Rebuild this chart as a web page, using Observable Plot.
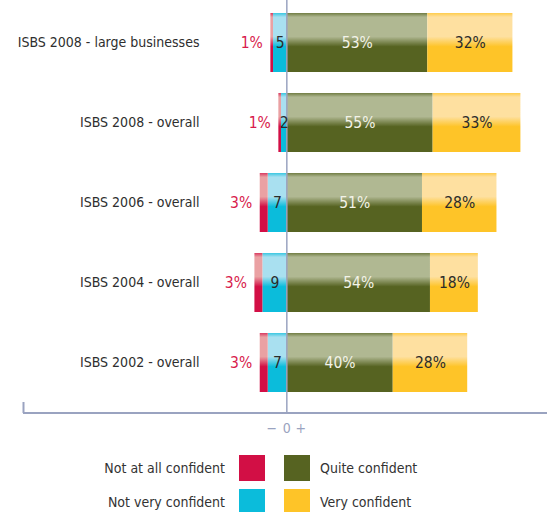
<!DOCTYPE html>
<html>
<head>
<meta charset="utf-8">
<script src="https://cdn.jsdelivr.net/npm/d3@7"></script>
<script src="https://cdn.jsdelivr.net/npm/@observablehq/plot@0.6"></script>
<style>
  html, body { margin: 0; padding: 0; background: #fff; }
  body { width: 547px; height: 512px; position: relative; overflow: hidden;
         font-family: "Liberation Sans Narrow", "DejaVu Sans Condensed", "Arial Narrow", sans-serif; color: #333; }
  #chart { position: absolute; left: 0; top: 0; }
  .lg { position: absolute; font-size: 14px; line-height: 26px; color: #333; }
  .sw { position: absolute; width: 26px; height: 26px; }
</style>
</head>
<body>
<div id="chart"></div>
<div id="legend"></div>
<script>
const categories = ["ISBS 2008 - large businesses", "ISBS 2008 - overall", "ISBS 2006 - overall", "ISBS 2004 - overall", "ISBS 2002 - overall"];
const series = ["Not at all confident", "Not very confident", "Quite confident", "Very confident"];
const notAtAll = [1, 1, 3, 3, 3];
const notVery = [5, 2, 7, 9, 7];
const quite = [53, 55, 51, 54, 40];
const very = [32, 33, 28, 18, 28];
const seriesColors = ["#d20f45", "#0bbcdb", "#566321", "#fec428"];
const seriesLight = ["#eaa1a3", "#a9e0f0", "#b0b892", "#fee0a0"];
const gradIds = ["gRed", "gBlue", "gGreen", "gYellow"];

const segs = [];
categories.forEach((c, i) => {
  segs.push({cat: c, s: series[1], x1: -notVery[i], x2: 0});
  segs.push({cat: c, s: series[0], x1: -(notVery[i] + notAtAll[i]), x2: -notVery[i]});
  segs.push({cat: c, s: series[2], x1: 0, x2: quite[i]});
  segs.push({cat: c, s: series[3], x1: quite[i], x2: quite[i] + very[i]});
});
const rows = categories.map((c, i) => ({cat: c, na: notAtAll[i], nv: notVery[i], q: quite[i], v: very[i]}));

const axisColor = "#9aa3c0";
const font = '"Liberation Sans Narrow", "DejaVu Sans Condensed", "Arial Narrow", sans-serif';

const baseline = (index, scales, values, dims) => {
  const ns = "http://www.w3.org/2000/svg";
  const l = document.createElementNS(ns, "line");
  const yb = dims.height - dims.marginBottom;
  l.setAttribute("x1", scales.x(-99));
  l.setAttribute("x2", dims.width - dims.marginRight);
  l.setAttribute("y1", yb);
  l.setAttribute("y2", yb);
  l.setAttribute("stroke", axisColor);
  l.setAttribute("stroke-width", 2);
  return l;
};

const plot = Plot.plot({
  width: 547,
  height: 440,
  marginLeft: 23,
  marginRight: 0,
  marginTop: 0,
  marginBottom: 27,
  insetTop: 2.5,
  insetBottom: 10.5,
  style: {fontFamily: font, background: "transparent", overflow: "visible"},
  x: {domain: [-99, 98], axis: null},
  y: {domain: categories, paddingInner: 0.2625, paddingOuter: 0.13125, axis: null},
  color: {domain: series, range: gradIds.map(id => `url(#${id})`)},
  marks: [
    Plot.barX(segs, {x1: "x1", x2: "x2", y: "cat", fill: "s"}),
    Plot.ruleX([0], {stroke: axisColor, strokeWidth: 1.5}),
    Plot.ruleX([-99], {stroke: axisColor, strokeWidth: 2, insetTop: 402}),
    baseline,
    Plot.text(categories, {y: d => d, frameAnchor: "left", dx: 176, textAnchor: "end", fontSize: 14, fill: "#2e2e2e"}),
    Plot.text(rows, {x: d => -(d.nv + d.na), y: "cat", text: d => `${d.na}%`, dx: -8, textAnchor: "end", fontSize: 15.5, fill: "#d81b4c"}),
    Plot.text(rows, {x: d => -d.nv / 2, y: "cat", text: d => `${d.nv}`, fontSize: 15.5, fill: "#2b2b2b"}),
    Plot.text(rows, {x: d => d.q / 2, y: "cat", text: d => `${d.q}%`, fontSize: 15.5, fill: "#f3f3e8"}),
    Plot.text(rows, {x: d => d.q + d.v / 2, y: "cat", text: d => `${d.v}%`, fontSize: 15.5, fill: "#2b2b2b"}),
    Plot.text([0], {x: d => d, frameAnchor: "bottom", lineAnchor: "middle", dy: 15, text: () => "0", fontSize: 14, fill: axisColor}),
    Plot.text([0], {x: d => d, frameAnchor: "bottom", lineAnchor: "middle", dy: 15, dx: -15, text: () => "\u2212", fontSize: 14, fill: axisColor}),
    Plot.text([0], {x: d => d, frameAnchor: "bottom", lineAnchor: "middle", dy: 15, dx: 14, text: () => "+", fontSize: 14, fill: axisColor})
  ]
});

const defs = d3.select(plot).insert("defs", ":first-child");
gradIds.forEach((id, k) => {
  const g = defs.append("linearGradient").attr("id", id)
    .attr("x1", 0).attr("y1", 0).attr("x2", 0).attr("y2", 1);
  const stops = [
    [0, d3.interpolateRgb(seriesColors[k], seriesLight[k])(0.3)],
    [0.07, seriesLight[k]],
    [0.40, seriesLight[k]],
    [0.57, seriesColors[k]],
    [1, seriesColors[k]]
  ];
  stops.forEach(([o, c]) => g.append("stop").attr("offset", o).attr("stop-color", c));
});

document.getElementById("chart").appendChild(plot);

// Legend
const legend = document.getElementById("legend");
const items = [
  {s: 0, col: 0, row: 0}, {s: 2, col: 1, row: 0},
  {s: 1, col: 0, row: 1}, {s: 3, col: 1, row: 1}
];
items.forEach(({s, col, row}) => {
  const top = 455 + row * 34;
  const sw = document.createElement("div");
  sw.className = "sw";
  sw.style.left = (col === 0 ? 239 : 284) + "px";
  sw.style.top = top + "px";
  sw.style.background = seriesColors[s];
  legend.appendChild(sw);
  const lab = document.createElement("div");
  lab.className = "lg";
  lab.textContent = series[s];
  lab.style.top = top + "px";
  if (col === 0) { lab.style.right = (547 - 225) + "px"; lab.style.textAlign = "right"; }
  else { lab.style.left = "320px"; }
  legend.appendChild(lab);
});
</script>
</body>
</html>
